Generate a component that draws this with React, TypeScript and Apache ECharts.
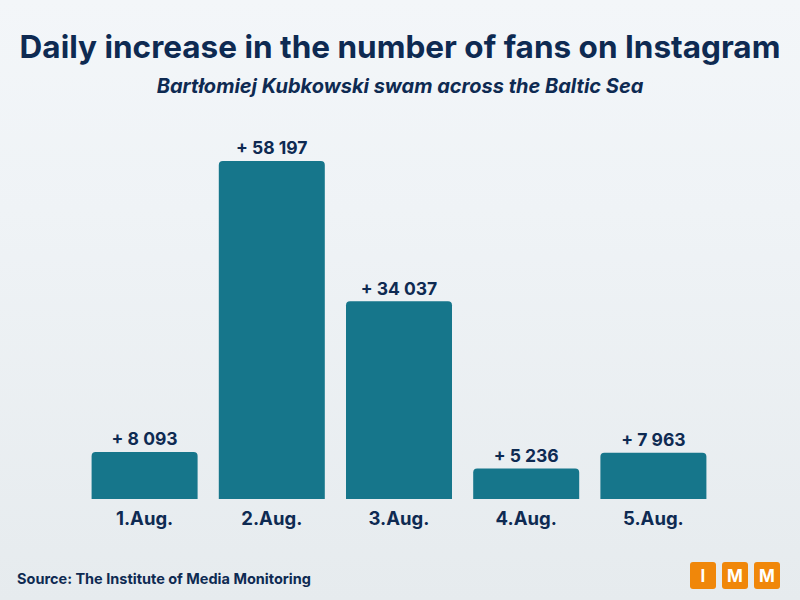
import React, { useEffect, useRef } from "react";
import * as echarts from "echarts";

const categories = ["1.Aug.", "2.Aug.", "3.Aug.", "4.Aug.", "5.Aug."];
const values = [8093, 58197, 34037, 5236, 7963];
const logoLetters = ["I", "M", "M"];

const NAVY = "#0e2a52";
const FONT = "Inter, 'Open Sans', sans-serif";

function fmt(v: number): string {
  return "+ " + String(v).replace(/\B(?=(\d{3})+(?!\d))/g, " ");
}

export default function App() {
  const ref = useRef<HTMLDivElement>(null);
  useEffect(() => {
    if (!ref.current) return;
    const chart = echarts.init(ref.current, null, { renderer: "svg" });
    const logo = logoLetters.map((l, i) => ({
      type: "group",
      left: 690 + i * 32,
      top: 562,
      children: [
        {
          type: "rect",
          shape: { x: 0, y: 0, width: 26, height: 27, r: 3 },
          style: { fill: "#f0870a" },
        },
        {
          type: "text",
          x: 13,
          y: 14,
          style: {
            text: l,
            fill: "#ffffff",
            font: `bold 17px ${FONT}`,
            align: "center",
            verticalAlign: "middle",
          },
        },
      ],
    }));
    chart.setOption({
      animation: false,
      backgroundColor: {
        type: "linear",
        x: 0,
        y: 0,
        x2: 0,
        y2: 1,
        colorStops: [
          { offset: 0, color: "#f3f6f9" },
          { offset: 0.35, color: "#eff3f6" },
          { offset: 1, color: "#e6ebee" },
        ],
      },
      title: [
        {
          text: "Daily increase in the number of fans on Instagram",
          left: "center",
          top: 30,
          padding: 0,
          textStyle: { color: NAVY, fontFamily: FONT, fontWeight: "bold", fontSize: 31.5 },
        },
        {
          text: "Bartłomiej Kubkowski swam across the Baltic Sea",
          left: "center",
          top: 76,
          padding: 0,
          textStyle: {
            color: NAVY,
            fontFamily: FONT,
            fontWeight: "bold",
            fontStyle: "italic",
            fontSize: 20,
          },
        },
        {
          text: "Source: The Institute of Media Monitoring",
          left: 17,
          top: 571,
          padding: 0,
          textStyle: { color: NAVY, fontFamily: FONT, fontWeight: "bold", fontSize: 14.5 },
        },
      ],
      grid: { left: 81, width: 636, top: 150.5, bottom: 101 },
      xAxis: {
        type: "category",
        data: categories,
        axisLine: { show: false },
        axisTick: { show: false },
        axisLabel: {
          color: NAVY,
          fontFamily: FONT,
          fontWeight: "bold",
          fontSize: 18.5,
          margin: 9,
        },
      },
      yAxis: {
        type: "value",
        min: 0,
        max: 60000,
        show: false,
        splitLine: { show: false },
      },
      series: [
        {
          type: "bar",
          data: values,
          barWidth: 106,
          itemStyle: { color: "#16768b", borderRadius: [4, 4, 0, 0] },
          label: {
            show: true,
            position: "top",
            distance: 4,
            color: NAVY,
            fontFamily: FONT,
            fontWeight: "bold",
            fontSize: 17.5,
            formatter: (p: any) => fmt(p.value),
          },
        },
      ],
      graphic: logo,
    });
    return () => chart.dispose();
  }, []);
  return (
    <div
      ref={ref}
      style={{ position: "fixed", left: 0, top: 0, width: 800, height: 600 }}
    />
  );
}
